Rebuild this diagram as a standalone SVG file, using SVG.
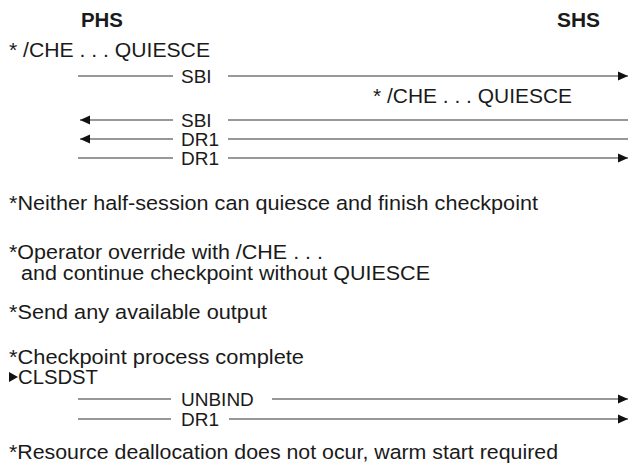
<svg xmlns="http://www.w3.org/2000/svg" width="629" height="467" viewBox="0 0 629 467">
  <style>
    text { font-family: "Liberation Sans", Arial, sans-serif; font-size: 20.5px; fill: #1a1a1a; }
    .hdr { font-weight: bold; font-size: 20px; }
    .lbl { font-size: 19px; }
    .tight { font-size: 19.5px; }
    .ln { stroke: #333; stroke-width: 1.2; fill: none; }
    .ah { fill: #111; }
  </style>
  <defs>
    <marker id="arr" viewBox="0 0 10 10" refX="10" refY="5" markerWidth="10" markerHeight="10" markerUnits="userSpaceOnUse" orient="auto">
      <path d="M0,0.5 L10,5 L0,9.5 Z" class="ah"/>
    </marker>
  </defs>
  <rect width="629" height="467" fill="#fff"/>

  <g id="phs"><text class="hdr" x="81" y="27" textLength="42" lengthAdjust="spacingAndGlyphs">PHS</text></g>
  <g id="shs"><text class="hdr" x="557" y="27" textLength="43" lengthAdjust="spacingAndGlyphs">SHS</text></g>

  <g id="notes">
    <text x="9" y="57" textLength="201" lengthAdjust="spacingAndGlyphs">* /CHE . . . QUIESCE</text>
    <text x="373" y="103" textLength="199" lengthAdjust="spacingAndGlyphs">* /CHE . . . QUIESCE</text>
    <text x="9" y="210" textLength="529" lengthAdjust="spacingAndGlyphs">*Neither half-session can quiesce and finish checkpoint</text>
    <text class="tight" x="9" y="259" textLength="314" lengthAdjust="spacingAndGlyphs">*Operator override with /CHE . . .</text>
    <text class="tight" x="21" y="279.5" textLength="409" lengthAdjust="spacingAndGlyphs">and continue checkpoint without QUIESCE</text>
    <text x="9" y="319" textLength="258" lengthAdjust="spacingAndGlyphs">*Send any available output</text>
    <text class="tight" x="9" y="363.5" textLength="295" lengthAdjust="spacingAndGlyphs">*Checkpoint process complete</text>
    <path d="M9,372 L18,377 L9,382 Z" class="ah"/>
    <text class="tight" x="18" y="384" textLength="80" lengthAdjust="spacingAndGlyphs">CLSDST</text>
    <text x="9" y="459" textLength="549" lengthAdjust="spacingAndGlyphs">*Resource deallocation does not ocur, warm start required</text>
  </g>

  <g id="connectors">
    <g id="m-sbi1">
      <line class="ln" x1="78" y1="76" x2="173" y2="76"/>
      <text class="lbl" x="181" y="83">SBI</text>
      <line class="ln" x1="228" y1="76" x2="628" y2="76" marker-end="url(#arr)"/>
    </g>
    <g id="m-sbi2">
      <line class="ln" x1="173" y1="120" x2="80" y2="120" marker-end="url(#arr)"/>
      <text class="lbl" x="181" y="127">SBI</text>
      <line class="ln" x1="228" y1="120" x2="628" y2="120"/>
    </g>
    <g id="m-dr1a">
      <line class="ln" x1="173" y1="139" x2="80" y2="139" marker-end="url(#arr)"/>
      <text class="lbl" x="181" y="146">DR1</text>
      <line class="ln" x1="228" y1="139" x2="628" y2="139"/>
    </g>
    <g id="m-dr1b">
      <line class="ln" x1="78" y1="158" x2="173" y2="158"/>
      <text class="lbl" x="181" y="165">DR1</text>
      <line class="ln" x1="228" y1="158" x2="628" y2="158" marker-end="url(#arr)"/>
    </g>
    <g id="m-unbind">
      <line class="ln" x1="78" y1="399" x2="171" y2="399"/>
      <text class="lbl" x="181" y="406">UNBIND</text>
      <line class="ln" x1="272" y1="399" x2="628" y2="399" marker-end="url(#arr)"/>
    </g>
    <g id="m-dr1c">
      <line class="ln" x1="78" y1="419" x2="171" y2="419"/>
      <text class="lbl" x="181" y="426">DR1</text>
      <line class="ln" x1="229" y1="419" x2="628" y2="419" marker-end="url(#arr)"/>
    </g>
  </g>
</svg>
